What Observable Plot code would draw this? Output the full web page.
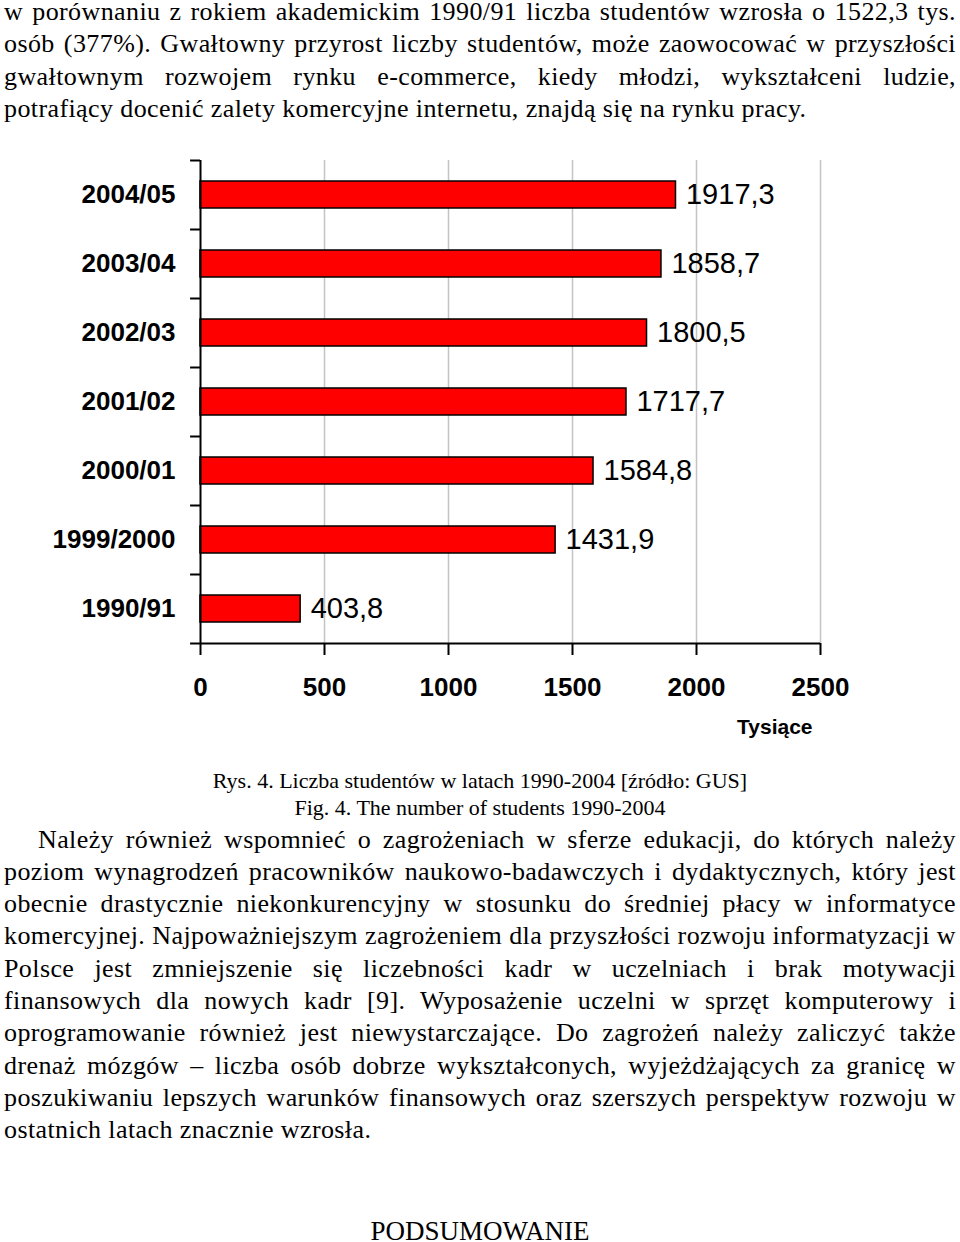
<!DOCTYPE html>
<html><head><meta charset="utf-8">
<script src="https://cdn.jsdelivr.net/npm/d3@7"></script>
<script src="https://cdn.jsdelivr.net/npm/@observablehq/plot@0.6"></script>
<style>
html,body{margin:0;padding:0;background:#fff;}
body{width:960px;height:1242px;position:relative;overflow:hidden;font-family:"Liberation Serif","Times New Roman",serif;color:#000;}
.ln{position:absolute;left:4px;width:952px;font-size:26px;letter-spacing:0.4px;line-height:24px;height:24px;text-align:justify;text-align-last:justify;}
.ln.last{text-align:left;text-align-last:left;}
.ln.ind{left:38px;width:918px;}
.cap{position:absolute;left:0;width:960px;text-align:center;font-size:22px;line-height:28px;white-space:nowrap;}
#chart{position:absolute;left:0;top:140px;}
</style></head><body>
<div id="page"></div>
<div id="chart"></div>
<script>
// ---- data ----
const years = ["2004/05","2003/04","2002/03","2001/02","2000/01","1999/2000","1990/91"];
const students = [1917.3,1858.7,1800.5,1717.7,1584.8,1431.9,403.8];
const xTicks = [0,500,1000,1500,2000,2500];
const xLabel = "Tysiące";

const topLines = [
  "w porównaniu z rokiem akademickim 1990/91 liczba studentów wzrosła o 1522,3 tys.",
  "osób (377%). Gwałtowny przyrost liczby studentów, może zaowocować w przyszłości",
  "gwałtownym rozwojem rynku e-commerce, kiedy młodzi, wykształceni ludzie,",
  "potrafiący docenić zalety komercyjne internetu, znajdą się na rynku pracy."
];
const captionLines = [
  "Rys. 4. Liczba studentów w latach 1990-2004 [źródło: GUS]",
  "Fig. 4. The number of students 1990-2004"
];
const bottomLines = [
  "Należy również wspomnieć o zagrożeniach w sferze edukacji, do których należy",
  "poziom wynagrodzeń pracowników naukowo-badawczych i dydaktycznych, który jest",
  "obecnie drastycznie niekonkurencyjny w stosunku do średniej płacy w informatyce",
  "komercyjnej. Najpoważniejszym zagrożeniem dla przyszłości rozwoju informatyzacji w",
  "Polsce jest zmniejszenie się liczebności kadr w uczelniach i brak motywacji",
  "finansowych dla nowych kadr [9]. Wyposażenie uczelni w sprzęt komputerowy i",
  "oprogramowanie również jest niewystarczające. Do zagrożeń należy zaliczyć także",
  "drenaż mózgów – liczba osób dobrze wykształconych, wyjeżdżających za granicę w",
  "poszukiwaniu lepszych warunków finansowych oraz szerszych perspektyw rozwoju w",
  "ostatnich latach znacznie wzrosła."
];
const heading = "PODSUMOWANIE";

// ---- page text ----
const page = document.getElementById("page");
function addLines(lines, firstBaseline, step, indentFirst) {
  lines.forEach((t, i) => {
    const d = document.createElement("div");
    d.className = "ln" + (i === lines.length - 1 ? " last" : "") + (indentFirst && i === 0 ? " ind" : "");
    d.textContent = t;
    d.style.top = (firstBaseline + i * step - 20.8) + "px";
    page.appendChild(d);
  });
}
addLines(topLines, 20.8, 32.4, false);
addLines(bottomLines, 848.3, 32.3, true);
captionLines.forEach((t, i) => {
  const d = document.createElement("div");
  d.className = "cap";
  d.textContent = t;
  d.style.top = (767 + i * 27) + "px";
  page.appendChild(d);
});
{
  const d = document.createElement("div");
  d.className = "cap";
  d.style.fontSize = "27px";
  d.style.lineHeight = "20px";
  d.style.top = (1240 - 19.1) + "px";
  d.textContent = heading;
  page.appendChild(d);
}

// ---- chart ----
const data = years.map((y, i) => ({year: y, value: students[i]}));
const fmt = v => d3.format(".1f")(v).replace(".", ",");
const W = 960, H = 610, mT = 20, mB = 107, mL = 200, mR = 140;
const half = (H - mT - mB) / years.length / 2;
const chart = Plot.plot({
  width: W, height: H, marginTop: mT, marginBottom: mB, marginLeft: mL, marginRight: mR,
  style: {fontFamily: '"Liberation Sans", Arial, sans-serif', fontSize: "26px", fontWeight: "bold", background: "transparent", color: "#000", overflow: "visible"},
  x: {domain: [0, 2500], ticks: xTicks},
  y: {domain: years, padding: 0},
  marks: [
    Plot.gridX(xTicks.slice(1), {stroke: "#c4c4c4", strokeOpacity: 1, strokeWidth: 1.5}),
    Plot.barX(data, {x: "value", y: "year", fill: "#ff0000", stroke: "#000", strokeWidth: 1.5, insetTop: 21, insetBottom: 21}),
    Plot.ruleX([0], {stroke: "#000", strokeWidth: 2}),
    Plot.ruleY(years, {y: d => d, x1: -40, x2: 0, dy: -half, stroke: "#000", strokeWidth: 2}),
    Plot.ruleY([years[years.length - 1]], {y: d => d, x1: -40, x2: 2500, dy: half, stroke: "#000", strokeWidth: 2}),
    Plot.axisX(xTicks, {tickSize: 12, tickPadding: 22, label: null, tickFormat: d => String(d), stroke: "#000", strokeWidth: 2}),
    Plot.axisY({tickSize: 0, tickPadding: 25, label: null}),
    Plot.text(data, {x: "value", y: "year", text: d => fmt(d.value), dx: 10, textAnchor: "start", fontSize: 29, fontWeight: "normal", fill: "#000"}),
    Plot.text([xLabel], {frameAnchor: "bottom-right", text: d => d, dx: -8, dy: 90, fontSize: 21, fill: "#000"})
  ]
});
document.getElementById("chart").appendChild(chart);
</script>
</body></html>
